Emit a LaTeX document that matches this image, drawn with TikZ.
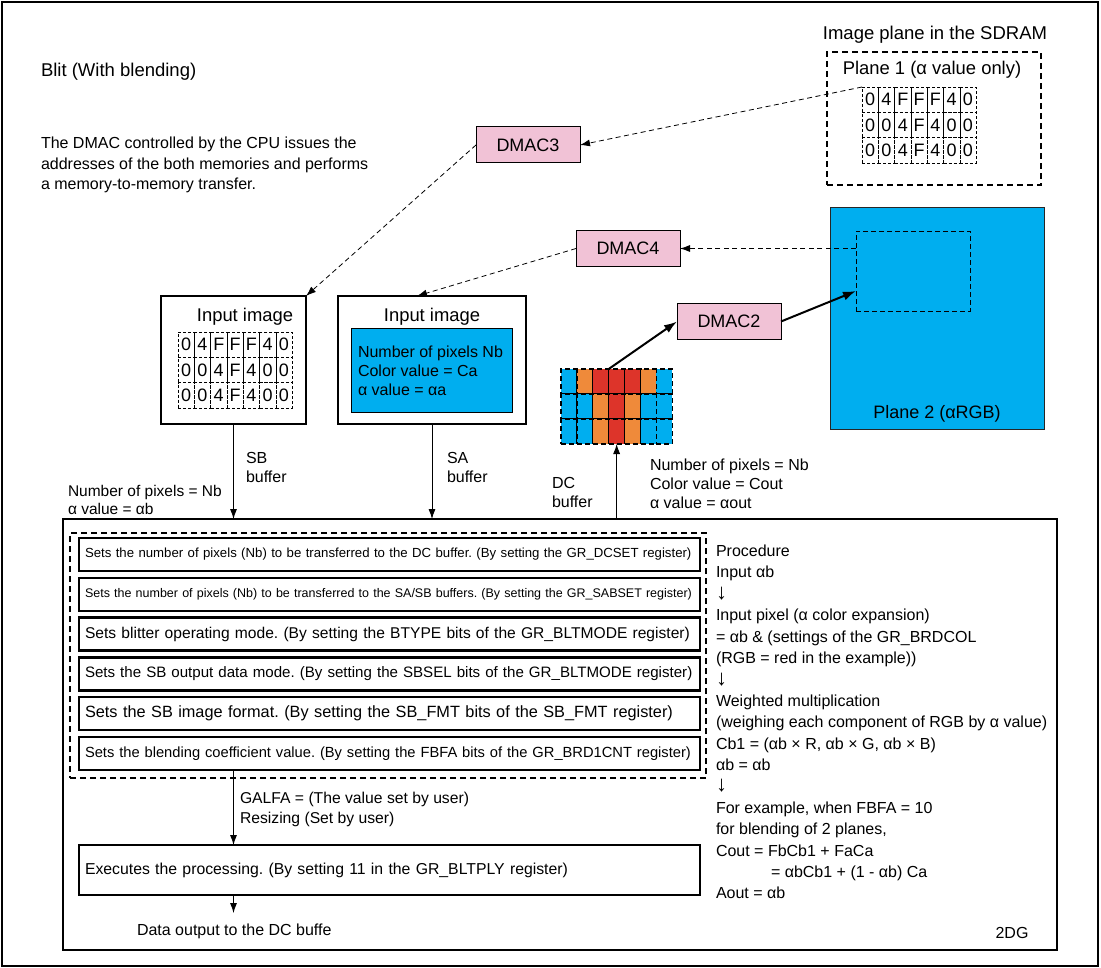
\documentclass[tikz,border=0pt]{standalone}
\usepackage{fontspec}
\setmainfont{Liberation Sans}
\usepackage{tikz}
\usetikzlibrary{positioning,shapes,arrows.meta,calc}

\definecolor{dmacpink}{RGB}{241,194,214}
\definecolor{planeblue}{RGB}{0,174,239}
\definecolor{px0}{RGB}{0,174,239}
\definecolor{px4}{RGB}{239,138,58}
\definecolor{pxF}{RGB}{221,52,42}
\newcommand{\fsz}[2]{\fontsize{#1}{#2}\selectfont}
\newcommand{\down}{{\fsz{22}{21.4}↓}}

\begin{document}
\frenchspacing
\begin{tikzpicture}[x=1pt, y=-1pt,
      every node/.style={font=\fsz{16}{19}, inner sep=0pt, outer sep=0pt},
      txt/.style={anchor=north west, align=left},
      dmac/.style={draw, line width=1pt, fill=dmacpink, minimum width=104pt,
                   minimum height=36pt, font=\fsz{18}{22}},
      boxframe/.style={draw, line width=2.5pt, anchor=north west},
      dashframe/.style={boxframe, dash pattern=on 6pt off 4pt},
      stepbox/.style={boxframe, minimum height=33pt, text width=609pt,
                      inner xsep=6pt, align=left},
      alphacell/.style={draw, line width=0.6pt, dash pattern=on 3pt off 2pt,
                        minimum width=16.3pt, minimum height=25.3pt,
                        anchor=north west, font=\fsz{18}{20}},
      dccell/.style={draw, line width=1.2pt, dash pattern=on 5pt off 3pt,
                     minimum width=15.9pt, minimum height=25pt, anchor=north west},
      arrow/.style={-{Latex[length=10pt,width=7pt]}, line width=0.8pt},
      dasharrow/.style={arrow, dash pattern=on 5pt off 3.5pt},
      boldarrow/.style={-{Latex[length=13pt,width=9pt]}, line width=2pt},
  ]
    \useasboundingbox (0,0) rectangle (1101,968);
    \draw[line width=1.5pt] (2,2) rectangle (1098,966);

    %% --- heading and note ---
    \node[anchor=base west, font=\fsz{18.5}{22}] (title) at (41,76.6) {Blit (With blending)};
    \node[txt, font=\fsz{16}{20.5}] (note) at (41,137)
      {The DMAC controlled by the CPU issues the\\addresses of the both memories and performs\\a memory-to-memory transfer.};

    %% --- image planes in the SDRAM ---
    \node[anchor=base, font=\fsz{18.5}{22}] (sdram) at (935,39.6) {Image plane in the SDRAM};
    \node[dashframe, minimum width=214pt, minimum height=133pt] (plane1) at (827,52) {};
    \node[anchor=base, font=\fsz{18.4}{22}] (plane1lbl) at (932,74.6) {Plane 1 (α value only)};
    \foreach \vals [count=\r from 0] in {{0,4,F,F,F,4,0},{0,0,4,F,4,0,0},{0,0,4,F,4,0,0}}
      \foreach \v [count=\c from 0] in \vals
        \node[alphacell] (p1-\r-\c) at ({862+16.3*\c},{87+25.3*\r}) {\v};

    \node[boxframe, draw=black!85, line width=1pt, fill=planeblue,
          minimum width=214pt, minimum height=221pt] (plane2) at (830,208) {};
    \node[draw, line width=0.9pt, dash pattern=on 5pt off 3pt, anchor=north west,
          minimum width=114pt, minimum height=80pt] (window) at (856,231) {};
    \node[anchor=base, font=\fsz{18}{22}] (plane2lbl) at (937,418.5) {Plane 2 (αRGB)};

    %% --- DMAC channels ---
    \node[dmac] (dmac3) at (528,145) {DMAC3};
    \node[dmac] (dmac4) at (628,248.5) {DMAC4};
    \node[dmac] (dmac2) at (729,321.5) {DMAC2};

    %% --- input images ---
    \node[boxframe, minimum width=145pt, minimum height=128pt] (in1) at (161,296) {};
    \node[anchor=base, font=\fsz{18.4}{22}] (in1lbl) at (245,321.6) {Input image};
    \foreach \vals [count=\r from 0] in {{0,4,F,F,F,4,0},{0,0,4,F,4,0,0},{0,0,4,F,4,0,0}}
      \foreach \v [count=\c from 0] in \vals
        \node[alphacell] (sb-\r-\c) at ({178+16.3*\c},{332+25.3*\r}) {\v};

    \node[boxframe, minimum width=188pt, minimum height=128pt] (in2) at (338,296) {};
    \node[anchor=base, font=\fsz{18.4}{22}] (in2lbl) at (432,321.6) {Input image};
    \node[boxframe, line width=1pt, fill=planeblue, minimum width=161pt,
          minimum height=83pt] (in2data) at (351,329) {};
    \node[txt, font=\fsz{16}{19}] (in2text) at (358,346)
      {Number of pixels Nb\\Color value = Ca\\α value = αa};

    %% --- DC buffer ---
    \foreach \vals [count=\r from 0] in {{0,4,F,F,F,4,0},{0,0,4,F,4,0,0},{0,0,4,F,4,0,0}}
      \foreach \v [count=\c from 0] in \vals
        \node[dccell, fill=px\v] (dc-\r-\c) at ({561+15.9*\c},{369+25*\r}) {};

    %% --- 2DG block ---
    \node[boxframe, line width=2.2pt, minimum width=994pt, minimum height=431pt] (dg) at (63,519) {};
    \node[anchor=base] (dglbl) at (1012,938) {2DG};
    \node[dashframe, minimum width=636pt, minimum height=245pt] (regs) at (70,533) {};

    \node[stepbox, font=\fsz{13.2}{15}] (step1) at (79,538)
      {\mbox{Sets the number of pixels (Nb) to be transferred to the DC buffer. (By setting the GR\_DCSET register)}};
    \node[stepbox, font=\fsz{12.5}{15}, below=6.8pt of step1] (step2)
      {\mbox{Sets the number of pixels (Nb) to be transferred to the SA/SB buffers. (By setting the GR\_SABSET register)}};
    \node[stepbox, font=\fsz{15.6}{18}, below=6.8pt of step2] (step3)
      {\mbox{Sets blitter operating mode. (By setting the BTYPE bits of the GR\_BLTMODE register)}};
    \node[stepbox, font=\fsz{15.1}{18}, below=6.8pt of step3] (step4)
      {\mbox{Sets the SB output data mode. (By setting the SBSEL bits of the GR\_BLTMODE register)}};
    \node[stepbox, font=\fsz{16.3}{18}, below=6.8pt of step4] (step5)
      {\mbox{Sets the SB image format. (By setting the SB\_FMT bits of the SB\_FMT register)}};
    \node[stepbox, font=\fsz{14.7}{18}, below=6.8pt of step5] (step6)
      {\mbox{Sets the blending coefficient value. (By setting the FBFA bits of the GR\_BRD1CNT register)}};

    \node[stepbox, line width=2.2pt, minimum height=50pt, font=\fsz{15.8}{18}] (exec) at (79,845)
      {Executes the processing. (By setting 11 in the GR\_BLTPLY register)};
    \coordinate (out) at ($(exec.south -| in1.south)+(0,18)$);

    %% --- labels round the buffers ---
    \node[txt, font=\fsz{16}{19.5}] (sblbl) at (246,452) {SB\\buffer};
    \node[txt, font=\fsz{16}{19.5}] (salbl) at (447,452) {SA\\buffer};
    \node[txt, font=\fsz{16}{19}] (dclbl) at (552,477) {DC\\buffer};
    \node[txt, font=\fsz{15.5}{18}] (sbinfo) at (68,485) {Number of pixels = Nb\\α value = αb};
    \node[txt, font=\fsz{16}{19}] (dcinfo) at (650,459)
      {Number of pixels = Nb\\Color value = Cout\\α value = αout};
    \node[txt, font=\fsz{15.7}{20}] (galfa) at (240,792)
      {GALFA = (The value set by user)\\Resizing (Set by user)};
    \node[anchor=base west] (outlbl) at (137,935.7) {Data output to the DC buffe};

    %% --- procedure ---
    \node[txt, font=\fsz{16}{21.4}] (proc) at (716,545)
      {Procedure\\
       Input αb\\
       \down\\
       Input pixel (α color expansion)\\
       = αb \& (settings of the GR\_BRDCOL\\
       (RGB = red in the example))\\
       \down\\
       Weighted multiplication\\
       (weighing each component of RGB by α value)\\
       Cb1 = (αb × R, αb × G, αb × B)\\
       αb = αb\\
       \down\\
       For example, when FBFA = 10\\
       for blending of 2 planes,\\
       Cout = FbCb1 + FaCa\\
       \hspace*{55pt}= αbCb1 + (1 - αb) Ca\\
       Aout = αb};

    %% --- transfers ---
    \draw[dasharrow] (p1-0-0.north west) -- (dmac3.east);
    \draw[dasharrow] (dmac3.west) -- (in1.north east);
    \draw[dasharrow] (dmac4.east -| window.west) -- (dmac4.east);
    \draw[dasharrow] (dmac4.west) -- ($(in2.north)+(-15,0)$);
    \draw[boldarrow] (dc-0-2.north east) -- (dmac2.west);
    \draw[boldarrow] (dmac2.east) -- ($(window.south west)!0.25!(window.north west)$);

    \draw[arrow] (in1.south) -- (in1.south |- dg.north);
    \draw[arrow] (in2.south) -- (in2.south |- dg.north);
    \draw[arrow] (dc-2-3.south |- dg.north) -- (dc-2-3.south);
    \draw[arrow] (step6.south -| in1.south) -- (exec.north -| in1.south);
    \draw[arrow] (exec.south -| in1.south) -- (out);
  \end{tikzpicture}
\end{document}
